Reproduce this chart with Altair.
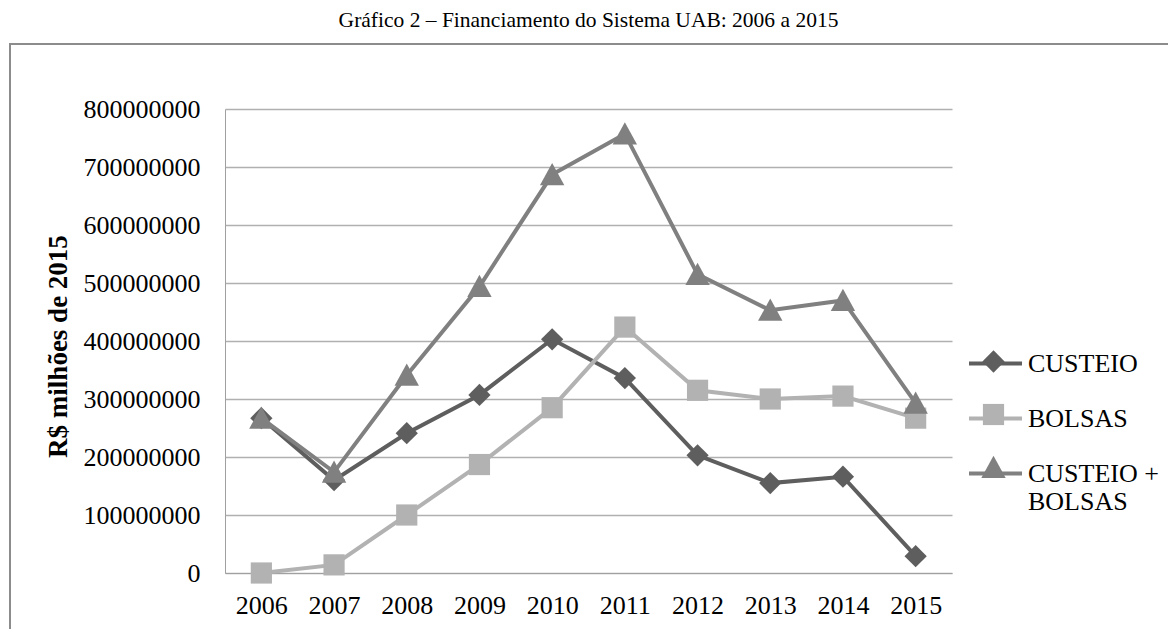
import altair as alt
import pandas as pd

# ---- data ----
years = [2006, 2007, 2008, 2009, 2010, 2011, 2012, 2013, 2014, 2015]
series_names = ["CUSTEIO", "BOLSAS", "CUSTEIO + BOLSAS"]
custeio = [267e6, 160e6, 241e6, 307e6, 403e6, 336e6, 203e6, 155e6, 166e6, 29e6]
bolsas = [0, 14e6, 100e6, 187e6, 285e6, 424e6, 315e6, 300e6, 305e6, 267e6]
custeio_bolsas = [267e6, 174e6, 341e6, 494e6, 687e6, 757e6, 515e6, 453e6, 470e6, 293e6]
y_ticks = [0, 100000000, 200000000, 300000000, 400000000, 500000000,
           600000000, 700000000, 800000000]
title_text = "Gráfico 2 – Financiamento do Sistema UAB: 2006 a 2015"

# ---- styles ----
colors = ["#5e5e5e", "#b2b2b2", "#808080"]
diamond = "M0,-0.42L0.42,0L0,0.42L-0.42,0Z"
square = "M-0.4,-0.4H0.4V0.4H-0.4Z"
triangle = "M0,-0.44L0.46,0.4L-0.46,0.4Z"
shapes = [diamond, square, triangle]
FONT = "Liberation Serif"
SYM = 2809

rows = []
for name, vals in zip(series_names, [custeio, bolsas, custeio_bolsas]):
    for yr, v in zip(years, vals):
        rows.append({"ano": str(yr), "serie": name, "valor": v})
df = pd.DataFrame(rows)

color_scale = alt.Scale(domain=series_names, range=colors)
shape_scale = alt.Scale(domain=series_names, range=shapes)
label_expr = "datum.label == 'CUSTEIO + BOLSAS' ? ['CUSTEIO +', 'BOLSAS'] : datum.label"
blank_expr = "datum.label == 'CUSTEIO + BOLSAS' ? [' ', ' '] : ' '"

legend_common = dict(
    orient="none", legendX=742, legendY=226, title=None,
    symbolSize=SYM, labelFont=FONT, labelFontSize=26, labelColor="black",
    labelLimit=0, labelOffset=4, rowPadding=13,
    labelBaseline="middle", padding=0,
)

x_enc = alt.X("ano:O", scale=alt.Scale(type="point", padding=0.5),
              axis=alt.Axis(title=None, labelFont=FONT, labelFontSize=26,
                            labelColor="black", labelPadding=19, ticks=False,
                            labelAngle=0, domainColor="#a0a0a0", domainWidth=1,
                            grid=False))
y_enc = alt.Y("valor:Q", scale=alt.Scale(domain=[0, 800000000], nice=False),
              axis=alt.Axis(values=y_ticks, format="d", labelFont=FONT,
                            labelFontSize=26, labelColor="black", labelPadding=25,
                            ticks=False, grid=True, gridColor="#b0b0b0",
                            gridWidth=1.6, domainColor="#a0a0a0", domainWidth=1,
                            title="R$ milhões de 2015", titleFont=FONT,
                            titleFontSize=27, titleFontWeight="bold",
                            titleColor="black", titleAngle=270, titleX=-167,
                            titleY=237, titleAlign="center",
                            titleBaseline="middle"))

base = alt.Chart(df)

lines = base.mark_line(strokeWidth=4).encode(
    x=x_enc, y=y_enc,
    stroke=alt.Stroke("serie:N", scale=color_scale, sort=series_names,
                      legend=alt.Legend(symbolType="stroke", labelExpr=label_expr,
                                        symbolStrokeWidth=4, **legend_common)),
)

points = base.mark_point(filled=True, size=SYM, opacity=1, strokeWidth=0).encode(
    x=x_enc, y=y_enc,
    fill=alt.Fill("serie:N", scale=color_scale, sort=series_names,
                  legend=alt.Legend(labelExpr=blank_expr, symbolStrokeWidth=0,
                                    **legend_common)),
    shape=alt.Shape("serie:N", scale=shape_scale, sort=series_names,
                    legend=alt.Legend(labelExpr=blank_expr, symbolStrokeWidth=0,
                                      **legend_common)),
)

frame_data = pd.DataFrame({"k": [0]})
frame_top = alt.Chart(frame_data).mark_rule(stroke="#8c8c8c", strokeWidth=2).encode(
    x=alt.value(-216), x2=alt.value(1000), y=alt.value(-65))
frame_left = alt.Chart(frame_data).mark_rule(stroke="#8c8c8c", strokeWidth=2).encode(
    x=alt.value(-215), y=alt.value(-66), y2=alt.value(1000))

title = alt.Chart(pd.DataFrame({"t": [title_text]})).mark_text(
    font=FONT, fontSize=21.5, color="black", align="center", baseline="alphabetic"
).encode(text="t:N", x=alt.value(363.5), y=alt.value(-82))

chart = alt.layer(frame_top, frame_left, title, lines, points).resolve_legend(
    stroke="independent", fill="independent", shape="independent"
).properties(
    width=727, height=464,
    padding={"left": 217, "top": 101, "right": 216, "bottom": 56},
    autosize=alt.AutoSizeParams(type="none"),
).configure_view(stroke="transparent")

chart.save("out.html", embed_options={"renderer": "svg", "actions": False})
